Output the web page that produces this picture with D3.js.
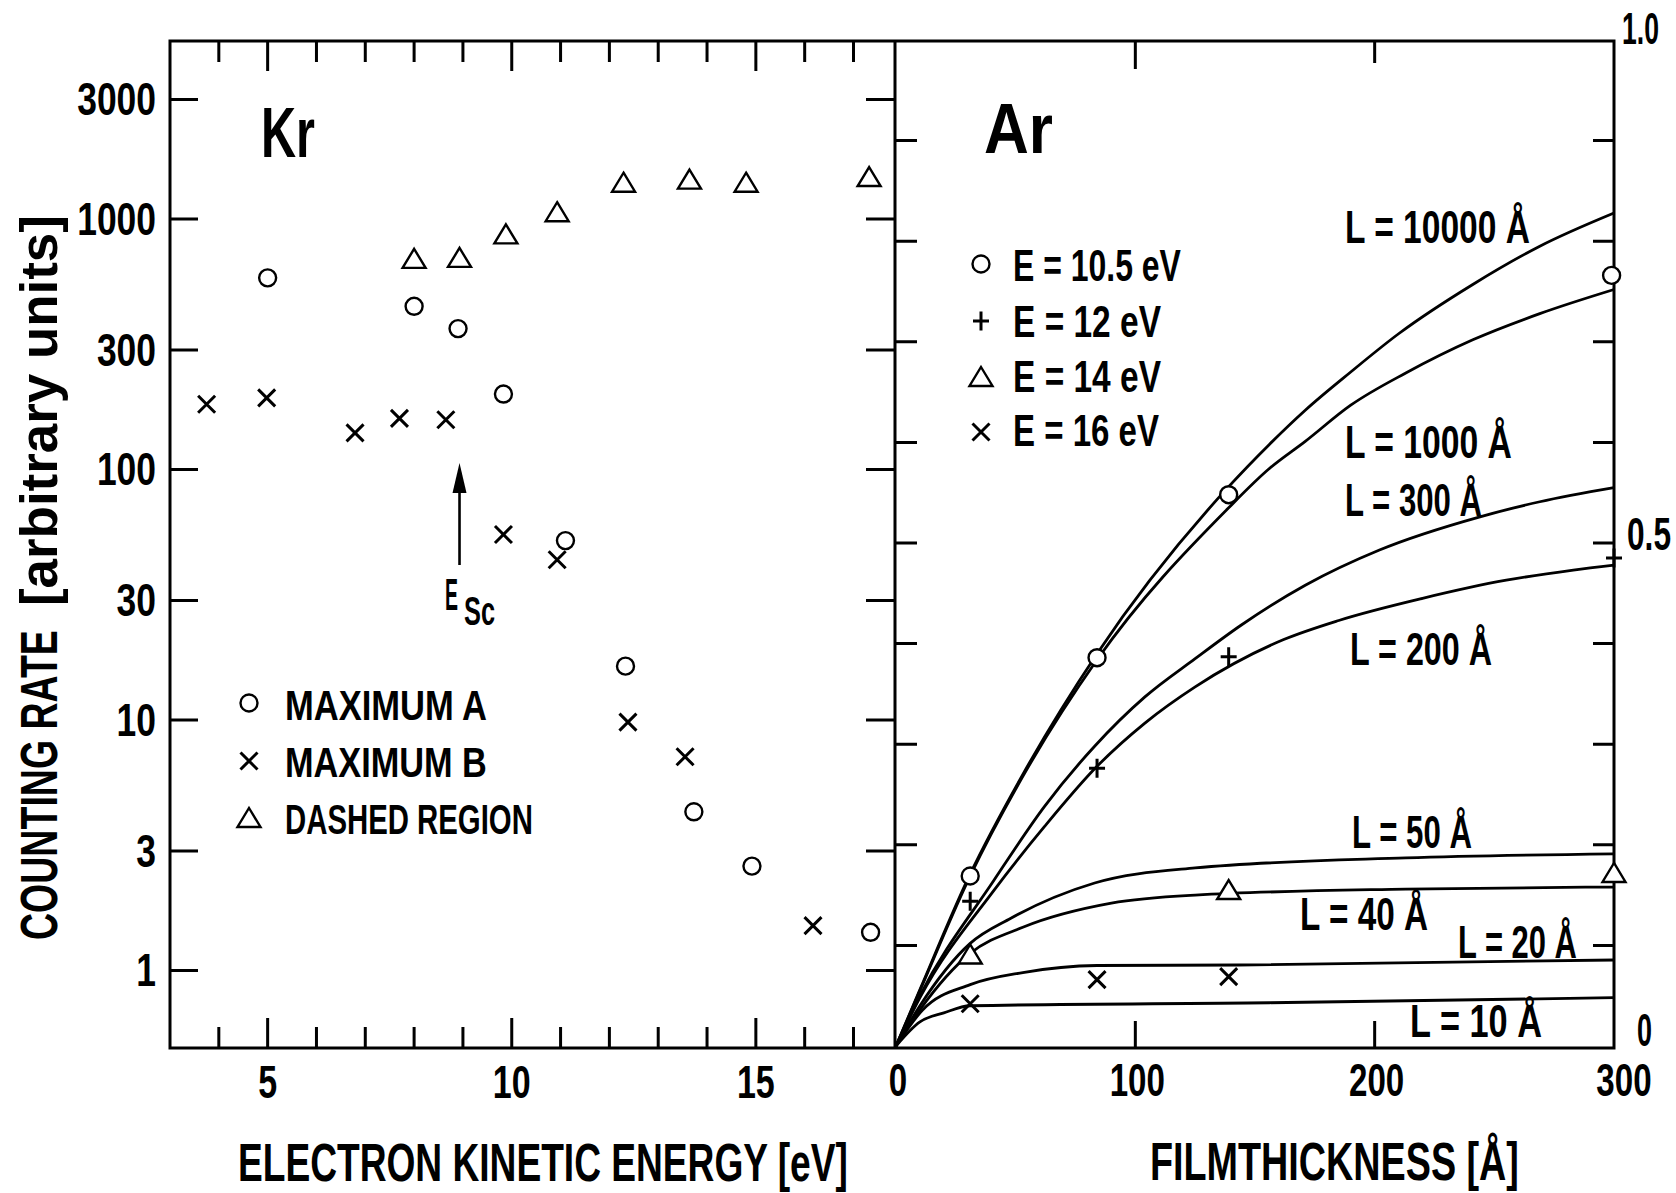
<!DOCTYPE html>
<html>
<head>
<meta charset="utf-8">
<script src="https://cdn.jsdelivr.net/npm/d3@7"></script>
<style>
  body { margin: 0; background: #fff; }
  svg text { font-family: "Liberation Sans", Arial, sans-serif; font-weight: bold; fill: #000; }
</style>
</head>
<body>
<svg id="chart" width="1676" height="1193"></svg>
<script>
// ---- left panel (Kr): counting rate vs electron kinetic energy ----
const energyTicks = [4, 5, 6, 7, 8, 9, 10, 11, 12, 13, 14, 15, 16, 17];
const energyLabels = [5, 10, 15];
const rateTicks = [1, 3, 10, 30, 100, 300, 1000, 3000];

const maximumA = [[5.0, 582], [8.0, 448], [8.9, 365], [9.83, 200], [11.1, 52], [12.33, 16.4], [13.73, 4.3], [14.92, 2.61], [17.35, 1.42]];
const maximumB = [[3.75, 182], [4.98, 193], [6.79, 140], [7.70, 160], [8.65, 158], [9.83, 55], [10.93, 43.6], [12.38, 9.8], [13.55, 7.13], [16.17, 1.51]];
const dashedRegion = [[8.0, 693], [8.93, 699], [9.88, 868], [10.93, 1064], [12.29, 1395], [13.64, 1435], [14.8, 1395], [17.32, 1470]];
const escEnergy = 8.93;

// ---- right panel (Ar): signal vs film thickness ----
const thicknessLabels = [0, 100, 200, 300];
const thicknessTicks = [100, 200];
const fractionTicks = [0.1, 0.2, 0.3, 0.4, 0.5, 0.6, 0.7, 0.8, 0.9];

const ar105 = [[31, 0.169], [84, 0.386], [139, 0.548], [299, 0.766]];
const ar12 = [[31, 0.144], [84, 0.276], [139, 0.387], [300, 0.485]];
const ar14 = [[31, 0.091], [139, 0.155], [300, 0.172]];
const ar16 = [[31, 0.042], [84, 0.066], [139, 0.069]];

const curve10000 = [[0, 0], [10, 0.056], [31, 0.171], [53, 0.27], [84, 0.39], [139, 0.556], [156, 0.598], [171, 0.632], [190, 0.670], [210, 0.708], [241, 0.757], [269, 0.795], [300, 0.828]];
const curve1000 = [[0, 0], [10, 0.055], [31, 0.169], [53, 0.268], [84, 0.384], [139, 0.535], [156, 0.574], [171, 0.601], [190, 0.637], [213, 0.669], [241, 0.702], [269, 0.728], [300, 0.752]];
const curve300 = [[0, 0], [10, 0.05], [41, 0.165], [62, 0.238], [83, 0.298], [104, 0.347], [125, 0.385], [144, 0.418], [171, 0.458], [202, 0.493], [244, 0.526], [269, 0.541], [300, 0.555]];
const curve200 = [[0, 0], [10, 0.048], [41, 0.155], [62, 0.218], [84, 0.278], [104, 0.321], [125, 0.357], [162, 0.404], [185, 0.423], [220, 0.445], [255, 0.463], [283, 0.473], [300, 0.478]];
const curve50 = [[0, 0], [10, 0.04], [31, 0.102], [48, 0.127], [83, 0.162], [125, 0.177], [213, 0.187], [300, 0.191]];
const curve40 = [[0, 0], [10, 0.036], [31, 0.092], [53, 0.118], [90, 0.142], [125, 0.150], [213, 0.156], [300, 0.158]];
const curve20 = [[0, 0], [11, 0.0355], [31, 0.061], [53, 0.073], [84, 0.080], [143, 0.0805], [300, 0.0855]];
const curve10 = [[0, 0], [10, 0.024], [20, 0.033], [31, 0.040], [156, 0.043], [300, 0.048]];

const svg = d3.select("#chart");
const frameTop = 41, frameBottom = 1048, frameLeft = 170, mid = 895, frameRight = 1614;

const xE = d3.scaleLinear([3, 17.85], [frameLeft, mid]);
const yC = d3.scaleLog([0.4903, 5133], [frameBottom, frameTop]);
const xT = d3.scaleLinear([0, 300], [896, frameRight]);
const yR = d3.scaleLinear([0, 1], [1046, 40]);

// text helper: squeeze glyphs horizontally to the narrow drawing-office lettering
function squeeze(t, x, y, k, rot) {
  t.attr("transform", `translate(${x},${y})${rot ? ` rotate(${rot})` : ""} scale(${k},1)`);
}
function label(x, y, s, size, width, rot) {
  const t = svg.append("text").attr("font-size", size).text(s);
  squeeze(t, x, y, width / t.node().getComputedTextLength(), rot);
  return t;
}

const lines = svg.append("g").attr("stroke", "#000").attr("stroke-width", 3).attr("fill", "none");

// frame and divider
lines.append("rect").attr("x", frameLeft).attr("y", frameTop)
  .attr("width", frameRight - frameLeft).attr("height", frameBottom - frameTop);
lines.append("line").attr("x1", mid).attr("x2", mid).attr("y1", frameTop).attr("y2", frameBottom);

// left panel ticks
lines.selectAll(".ey").data(rateTicks).join("path")
  .attr("d", d => `M${frameLeft},${yC(d)}h28M${mid},${yC(d)}h-29`);
lines.selectAll(".ex").data(energyTicks).join("path")
  .attr("d", d => {
    const len = energyLabels.includes(d) ? 30 : 21;
    return `M${xE(d)},${frameBottom}v${-len}M${xE(d)},${frameTop}v${len}`;
  });

// right panel ticks
lines.selectAll(".fy").data(fractionTicks).join("path")
  .attr("d", d => `M${mid},${yR(d)}h22M${frameRight},${yR(d)}h-21`);
lines.selectAll(".tx").data(thicknessTicks).join("path")
  .attr("d", d => `M${xT(d)},${frameBottom}v-27M${xT(d)},${frameTop}v${d === 100 ? 28 : 22}`);

// tick labels
svg.selectAll(".yl").data(rateTicks).join("text")
  .attr("text-anchor", "end").attr("font-size", 46).text(d => d)
  .each(function (d) { squeeze(d3.select(this), 156, yC(d) + 16, 0.77); });
svg.selectAll(".xl").data(energyLabels).join("text")
  .attr("text-anchor", "middle").attr("font-size", 46).text(d => d)
  .each(function (d) { squeeze(d3.select(this), xE(d), 1098, 0.74); });
svg.selectAll(".tl").data(thicknessLabels).join("text")
  .attr("text-anchor", "middle").attr("font-size", 46).text(d => d)
  .each(function (d) { squeeze(d3.select(this), xT(d) + (d === 300 ? 10 : 2), 1096, 0.72); });
label(1622, yR(1) + 4, "1.0", 44, 37);
label(1627, yR(0.5) + 7, "0.5", 46, 44);
label(1637, yR(0), "0", 46, 15);

// axis titles
label(238, 1181, "ELECTRON  KINETIC  ENERGY  [eV]", 54, 610);
label(1150, 1180, "FILMTHICKNESS  [Å]", 54, 369);
label(57, 940, "COUNTING RATE", 52, 310, -90);
label(57, 606, "[arbitrary units]", 52, 391, -90);

// panel names
label(261, 157, "Kr", 70, 54);
label(984, 153, "Ar", 70, 69);

// markers
const markerPath = {
  cross: "M-8.5,-8.5L8.5,8.5M-8.5,8.5L8.5,-8.5",
  plus: "M-8,0H8M0,-9.5V9.5",
  tri: "M0,-10L11.5,9L-11.5,9Z"
};
function marker(g, kind, x, y) {
  if (kind === "circle") {
    return g.append("circle").attr("cx", x).attr("cy", y).attr("r", 8.5)
      .attr("fill", "#fff").attr("stroke", "#000").attr("stroke-width", 2.4);
  }
  return g.append("path").attr("d", markerPath[kind])
    .attr("transform", `translate(${x},${y})`)
    .attr("fill", kind === "tri" ? "#fff" : "none").attr("stroke", "#000")
    .attr("stroke-width", kind === "tri" ? 2.4 : 3);
}

// right panel curves
const line = d3.line().x(d => xT(d[0])).y(d => yR(d[1])).curve(d3.curveMonotoneX);
const curves = [curve10000, curve1000, curve300, curve200, curve50, curve40, curve20, curve10];
svg.append("g").selectAll("path").data(curves).join("path")
  .attr("d", line).attr("fill", "none").attr("stroke", "#000").attr("stroke-width", 2.8);

const marks = svg.append("g");
const series = [
  [maximumA, "circle", xE, yC], [maximumB, "cross", xE, yC], [dashedRegion, "tri", xE, yC],
  [ar105, "circle", xT, yR], [ar12, "plus", xT, yR], [ar14, "tri", xT, yR], [ar16, "cross", xT, yR]
];
series.forEach(([pts, kind, sx, sy]) => pts.forEach(p => marker(marks, kind, sx(p[0]), sy(p[1]))));

// left legend
const legendKr = [["circle", "MAXIMUM A", 703, 720, 202], ["cross", "MAXIMUM B", 761, 777, 202], ["tri", "DASHED REGION", 818, 834, 248]];
legendKr.forEach(([k, s, my, by, w]) => { marker(marks, k, 249, my); label(285, by, s, 43, w); });

// right legend
const legendAr = [["circle", "E = 10.5 eV", 264, 281, 168], ["plus", "E = 12 eV", 321, 337, 148], ["tri", "E = 14 eV", 377, 392, 148], ["cross", "E = 16 eV", 432, 446, 146]];
legendAr.forEach(([k, s, my, by, w]) => { marker(marks, k, 981, my); label(1013, by, s, 45, w); });

// curve labels
const curveLabels = [
  ["L = 10000 Å", 1345, 243, 185], ["L = 1000 Å", 1345, 458, 167], ["L = 300 Å", 1345, 516, 137],
  ["L = 200 Å", 1350, 665, 142], ["L = 50 Å", 1352, 848, 120], ["L = 40 Å", 1300, 930, 128],
  ["L = 20 Å", 1458, 958, 119], ["L = 10 Å", 1410, 1037, 132]
];
curveLabels.forEach(([s, x, y, w]) => label(x, y, s, 47, w));

// E_Sc arrow
const ax = xE(escEnergy);
svg.append("line").attr("x1", ax).attr("x2", ax).attr("y1", 565).attr("y2", 488)
  .attr("stroke", "#000").attr("stroke-width", 2.6);
svg.append("path").attr("d", `M${ax},463L${ax + 7},493L${ax - 7},493Z`).attr("fill", "#000");
label(445, 610, "E", 45, 13);
label(464, 625, "Sc", 40, 31);
</script>
</body>
</html>
